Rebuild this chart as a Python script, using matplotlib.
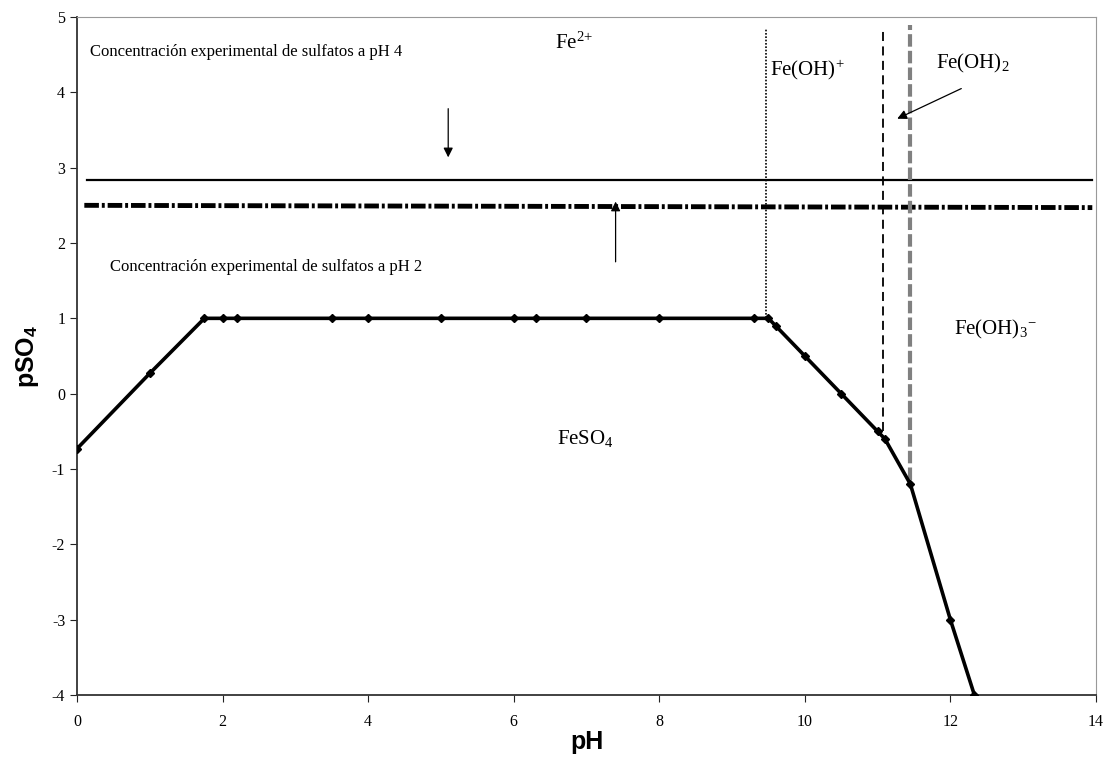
import matplotlib
matplotlib.use("Agg")
import matplotlib.pyplot as plt

# Frontera FeSO4 (pH vs pSO4)
ph = [0, 1, 1.75, 2, 2.2, 3.5, 4, 5, 6, 6.3, 7, 8, 9.3, 9.5, 9.6, 10, 10.5, 11, 11.1, 11.45, 12, 12.33]
pso4 = [-0.73, 0.27, 1, 1, 1, 1, 1, 1, 1, 1, 1, 1, 1, 1, 0.9, 0.5, 0, -0.5, -0.6, -1.2, -3, -4]

# Concentraciones experimentales
ph4_x = [0.14, 13.95]
ph4_y = [2.84, 2.84]
ph2_x = [0.1, 13.95]
ph2_y = [2.5, 2.47]

# Fronteras verticales (x, y_bottom, y_top)
v_dotted = (9.47, 1.0, 4.85)
v_dashed = (11.07, -0.5, 4.85)
v_gray = (11.44, -1.15, 4.9)

plt.rcParams['font.family'] = ['Liberation Serif', 'DejaVu Serif']
plt.rcParams['axes.unicode_minus'] = False
plt.rcParams['mathtext.fontset'] = 'custom'
plt.rcParams['mathtext.rm'] = 'Liberation Serif'
plt.rcParams['mathtext.it'] = 'Liberation Serif:italic'
plt.rcParams['mathtext.bf'] = 'Liberation Sans:bold'

fig = plt.figure(figsize=(11.07, 7.66), dpi=100)
ax = fig.add_axes([0.0696, 0.0927, 0.9204, 0.8851])

ax.plot(ph4_x, ph4_y, color='black', lw=1.6)
ax.plot(ph2_x, ph2_y, color='black', lw=3.5, linestyle=(0, (3, 0.6, 0.6, 0.6)))

ax.plot([v_dotted[0]] * 2, v_dotted[1:], color='black', lw=1.2, linestyle=(0, (1, 1)))
ax.plot([v_dashed[0]] * 2, v_dashed[1:], color='black', lw=1.3, linestyle=(0, (5, 3)))
ax.plot([v_gray[0]] * 2, v_gray[1:], color='#808080', lw=3, linestyle=(0, (3, 1)))

ax.plot(ph, pso4, color='black', lw=2.6, marker='D', markersize=4.5, zorder=5)

ax.set_xlim(0, 14)
ax.set_ylim(-4, 5)
ax.set_xticks(range(0, 15, 2))
ax.set_yticks(range(-4, 6))
ax.tick_params(direction='out', length=5, labelsize=11.5, color='#222222')
ax.tick_params(axis='x', pad=9)
for s in ['top', 'right']:
    ax.spines[s].set_color('#999999')
for s in ['left', 'bottom']:
    ax.spines[s].set_color('#333333')
    ax.spines[s].set_linewidth(1.3)

ax.set_xlabel('pH', fontsize=18, fontweight='bold', family='Liberation Sans', labelpad=0)
ax.set_ylabel(r'pSO$_\mathbf{4}$', fontsize=18, fontweight='bold', family='Liberation Sans', labelpad=8)

ax.text(0.18, 4.53, 'Concentración experimental de sulfatos a pH 4', fontsize=12, va='center')
ax.text(0.45, 1.68, 'Concentración experimental de sulfatos a pH 2', fontsize=12, va='center')
ax.annotate('', xy=(5.1, 3.1), xytext=(5.1, 3.82),
            arrowprops=dict(arrowstyle='-|>', color='black', lw=0.9, mutation_scale=14))
ax.annotate('', xy=(7.4, 2.55), xytext=(7.4, 1.75),
            arrowprops=dict(arrowstyle='-|>', color='black', lw=0.9, mutation_scale=14, shrinkA=0, shrinkB=0))
ax.annotate('', xy=(11.27, 3.65), xytext=(12.15, 4.05),
            arrowprops=dict(arrowstyle='-|>', color='black', lw=0.9, mutation_scale=14, shrinkA=0, shrinkB=0))

ax.text(6.57, 4.65, r'Fe$^{2{+}}$', fontsize=15, va='center')
ax.text(9.52, 4.3, r'Fe(OH)$^{{+}}$', fontsize=15, va='center')
ax.text(11.8, 4.38, r'Fe(OH)$_2$', fontsize=15, va='center')
ax.text(12.05, 0.85, r'Fe(OH)$_3$$^{{-}}$', fontsize=15, va='center')
ax.text(6.6, -0.6, r'FeSO$_4$', fontsize=15, va='center')

fig.savefig('out.png', dpi=100)
